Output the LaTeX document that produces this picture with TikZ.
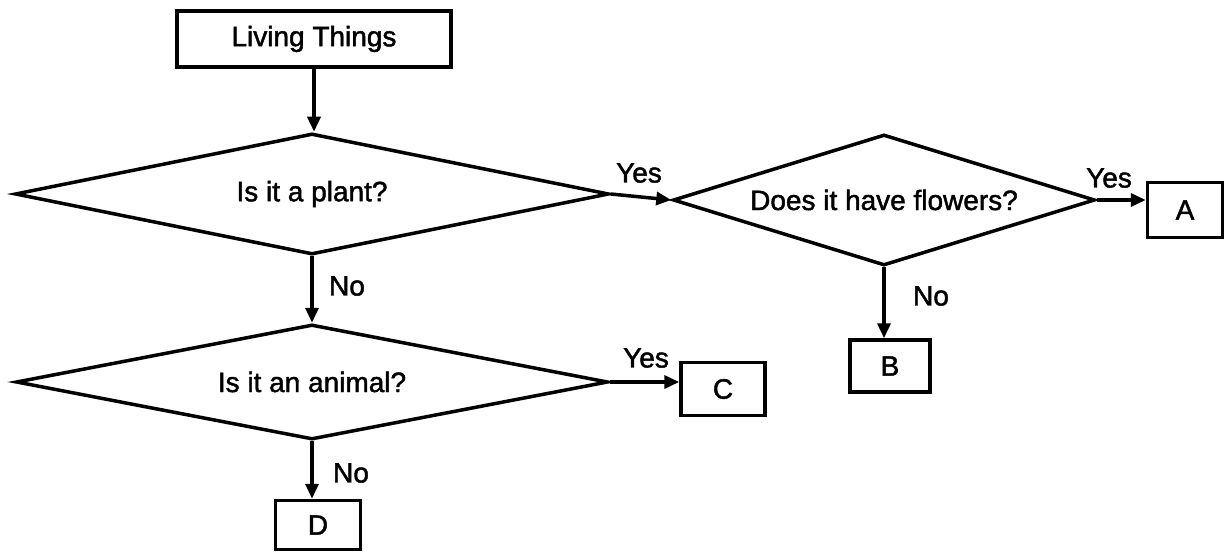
\documentclass[tikz,border=0pt]{standalone}
\usepackage{fontspec}
\setmainfont{Liberation Sans}
\newfontfamily\scanfont[FakeBold=1.6]{Liberation Sans}
\usetikzlibrary{shapes.geometric,arrows.meta}
\begin{document}
\begin{tikzpicture}[x=1pt,y=-1pt,
  every node/.style={font=\scanfont\fontsize{28}{32}\selectfont},
  boxnode/.style={draw,line width=3.5pt,rectangle,inner sep=0pt},
  decision/.style={draw,line width=3.5pt,diamond,inner sep=0pt},
  lbl/.style={inner sep=0pt},
  conn/.style={line width=3.5pt,-{Triangle[length=15pt,width=13pt]}}]
\useasboundingbox (0,0) rectangle (1225,553);
% boxes
\node[boxnode,minimum width=274pt,minimum height=56pt] (lt) at (314,39) {Living Things};
\node[boxnode,minimum width=75pt,minimum height=55pt] (A) at (1185,210) {A};
\node[boxnode,minimum width=80pt,minimum height=52pt] (B) at (890,366) {B};
\node[boxnode,minimum width=84pt,minimum height=53pt] (C) at (723,389) {C};
\node[boxnode,minimum width=85pt,minimum height=49pt] (D) at (318,525) {D};
% decisions
\node[decision,aspect=4.9,minimum width=594pt,minimum height=121pt] (d1) at (312,194) {Is it a plant?};
\node[decision,aspect=3.2,minimum width=422pt,minimum height=131pt] (d2) at (884,200) {Does it have flowers?};
\node[decision,aspect=5.1,minimum width=592pt,minimum height=115pt] (d3) at (312,382) {Is it an animal?};
% connectors
\draw[conn] (lt.south) -- (lt.south |- d1.north);
\draw[conn] (d1.east) -- (d2.west);
\draw[conn] (d2.east) -- (d2.east -| A.west);
\draw[conn] (d2.south) -- (d2.south |- B.north);
\draw[conn] (d1.south) -- (d1.south |- d3.north);
\draw[conn] (d3.east) -- (d3.east -| C.west);
\draw[conn] (d3.south) -- (d3.south |- D.north);
% labels
\node[lbl] (y1) at (639,173) {Yes};
\node[lbl] (y2) at (1109,178) {Yes};
\node[lbl] (nB) at (931,296) {No};
\node[lbl] (n1) at (347,286) {No};
\node[lbl] (y3) at (646,358) {Yes};
\node[lbl] (n2) at (351,473) {No};
\end{tikzpicture}
\end{document}
